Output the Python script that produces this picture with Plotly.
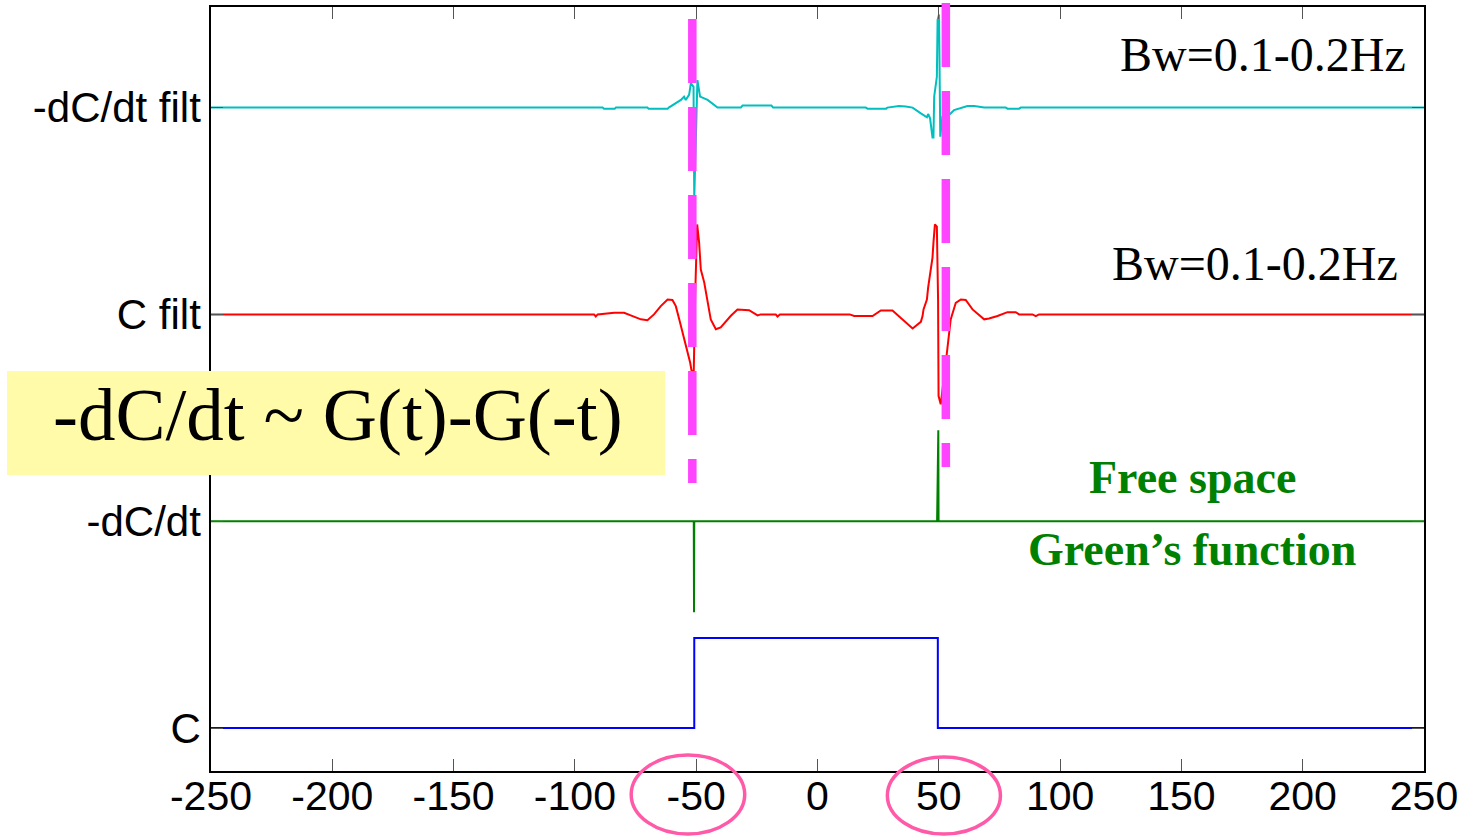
import numpy as np
import plotly.graph_objects as go

# ---------------- data ----------------
tick_positions = [0, 1, 2, 3]
tick_labels = ["C", "-dC/dt", "C filt", "-dC/dt filt"]
x_ticks = [-250, -200, -150, -100, -50, 0, 50, 100, 150, 200, 250]

# C : box function
t_C = [-250, -50.8, -50.8, 49.6, 49.6, 250]
C = [0, 0, 0.435, 0.435, 0, 0]

# -dC/dt : spikes
t_dC = [-250, -51.0, -50.9, -50.8, 49.3, 49.8, 49.9, 250]
dC = [0, 0, -0.44, 0, 0, 0.44, 0, 0]

# C filt
t_Cf = [-250, -92.1, -91.4, -90.6, -83.8, -79.7, -77.0, -72.8, -70.1, -67.4,
        -64.6, -61.8, -59.8, -58.4, -57.0, -55.6, -54.3, -52.5, -51.8, -51.0,
        -50.4, -49.6, -48.8, -48.1, -46.7, -45.3, -44.0, -41.9, -39.9, -35.8,
        -33.0, -28.2, -24.7, -23.4, -17.2, -16.5, -15.5,
        13.3, 15.1, 22.7, 26.1, 30.9, 39.2, 42.6, 43.3, 43.7, 45.1, 45.6, 46.7,
        47.4, 47.8, 48.4, 49.2, 49.7, 49.9, 50.8, 53.3, 54.2, 54.9, 57.0, 59.1,
        61.1, 63.9, 68.7, 70.7, 74.2, 78.3, 81.7, 83.1, 88.6, 90.0, 91.3, 250]
Cf = [0, 0, -0.01, 0, 0.008, 0.008, -0.005, -0.024, -0.028, 0,
      0.04, 0.072, 0.07, 0.04, -0.024, -0.089, -0.137, -0.233, -0.28, -0.27,
      0.1, 0.435, 0.348, 0.217, 0.155, 0.072, -0.024, -0.072, -0.063, -0.008,
      0.024, 0.02, -0.005, 0, 0, -0.01, 0,
      0, -0.008, -0.008, 0.019, 0.019, -0.068, -0.036, -0.008, 0.024, 0.072, 0.129, 0.21,
      0.274, 0.347, 0.435, 0.424, 0.072, -0.395, -0.435, -0.19, -0.08, -0.024, 0.056, 0.072,
      0.07, 0.024, -0.024, -0.02, -0.008, 0.011, 0.011, 0, 0, -0.008, 0, 0]

# -dC/dt filt
t_dCf = [-250, -88.6, -88.0, -83.6, -83.1, -70.1, -69.6, -61.8, -61.3, -56.3,
         -55.0, -54.3, -52.9, -52.2, -51.1, -50.8, -49.5, -48.4, -46.7, -45.3,
         -41.2, -31.6, -30.9, -19.0, -18.3,
         19.9, 20.6, 28.3, 28.8, 33.6, 36.4, 39.2, 42.6, 45.1, 45.6, 46.4, 47.4,
         47.8, 48.1, 49.2, 49.5, 50.1, 50.6, 51.5, 54.2, 56.3, 61.8, 64.6, 68.7,
         77.6, 78.3, 83.1, 83.8, 250]
dCf = [0, 0, -0.006, -0.006, 0, 0, -0.006, -0.006, 0, 0.037,
       0.053, 0.037, 0.063, 0.118, 0.1, -0.44, 0.133, 0.053, 0.045, 0.037,
       0, 0, 0.01, 0.01, 0,
       0, -0.005, -0.005, 0, 0.008, 0.005, 0, -0.028, -0.047, -0.031, -0.052, -0.144,
       -0.144, 0.053, 0.149, 0.424, 0.45, -0.141, -0.044, -0.036, -0.012, 0.008, 0.008, 0,
       0, -0.005, -0.005, 0, 0]

# markers of the causal / anti-causal arrival times
arrival_times = [-51.6, 52.9]
# highlighted tick labels (ellipse extents in time units)
ellipse_spans = [(-76.8, -30.0), (28.8, 75.4)]

# ---------------- figure ----------------
fig = go.Figure()
series = [
    (t_C, C, 0, "#0000FF"),
    (t_dC, dC, 1, "#008000"),
    (t_Cf, Cf, 2, "#FF0000"),
    (t_dCf, dCf, 3, "#00BFBF"),
]
for t, v, off, col in series:
    fig.add_trace(go.Scatter(x=t, y=np.array(v) + off, mode="lines",
                             line=dict(color=col, width=2), showlegend=False,
                             hoverinfo="skip"))

W, H = 1465, 838
L, R, T, B = 211, 41, 7, 67
pw, ph = W - L - R, H - T - B

def py2paper(py):
    return (H - B - py) / ph

def px2paper(px):
    return (px - L) / pw

shapes = []
# magenta dashed vertical lines
mag_tops = [19, 3]
mag_bots = [483, 467]
for xt, ytop, ybot in zip(arrival_times, mag_tops, mag_bots):
    shapes.append(dict(type="line", xref="x", yref="paper", x0=xt, x1=xt,
                       y0=py2paper(ytop), y1=py2paper(ybot),
                       line=dict(color="#FF44FF", width=8.5, dash="64px,24px"),
                       layer="above"))
# yellow box
shapes.append(dict(type="rect", xref="paper", yref="paper",
                   x0=px2paper(7), x1=px2paper(665), y0=py2paper(475), y1=py2paper(371),
                   fillcolor="#FFFBA8", line=dict(width=0), layer="above"))
# pink ellipses around -50 and 50 tick labels
for (xa, xb), (ya, yb) in zip(ellipse_spans, [(834, 755), (834, 757)]):
    shapes.append(dict(type="circle", xref="x", yref="paper",
                       x0=xa, x1=xb, y0=py2paper(ya), y1=py2paper(yb),
                       line=dict(color="#FF5AA8", width=3.5), layer="above"))

serif = "Liberation Serif, Times New Roman, serif"
annotations = [
    dict(text="-dC/dt ~ G(t)-G(-t)", x=px2paper(338), y=py2paper(414),
         font=dict(family=serif, size=75, color="black")),
    dict(text="Bw=0.1-0.2Hz", x=px2paper(1408), y=py2paper(55), xanchor="right",
         font=dict(family=serif, size=48, color="black")),
    dict(text="Bw=0.1-0.2Hz", x=px2paper(1400), y=py2paper(263), xanchor="right",
         font=dict(family=serif, size=48, color="black")),
    dict(text="<b>Free space</b>", x=px2paper(1192), y=py2paper(477),
         font=dict(family=serif, size=46, color="#008000")),
    dict(text="<b>Green’s function</b>", x=px2paper(1192), y=py2paper(549),
         font=dict(family=serif, size=46, color="#008000")),
]
for a in annotations:
    a.setdefault("xanchor", "center")
    a.update(xref="paper", yref="paper", yanchor="middle", showarrow=False)

sans = "Liberation Sans, Arial, sans-serif"
y0px = 728
spacing = 206.8
y_top = (y0px - T) / spacing
y_bot = -(H - B - y0px) / spacing

fig.update_layout(
    width=W, height=H,
    margin=dict(l=L, r=R, t=T, b=B, autoexpand=False),
    paper_bgcolor="white", plot_bgcolor="white",
    shapes=shapes, annotations=annotations,
    xaxis=dict(range=[-250, 250], tickvals=x_ticks, ticktext=[str(v) for v in x_ticks],
               ticks="inside", ticklen=12, tickcolor="#555", tickwidth=1.2,
               showline=True, linecolor="black", linewidth=1.5, mirror="ticks",
               showgrid=False, zeroline=False, ticklabelstandoff=-12,
               tickfont=dict(family=sans, size=41, color="black")),
    yaxis=dict(range=[y_bot, y_top], tickvals=tick_positions, ticktext=tick_labels,
               ticks="inside", ticklen=12, tickcolor="#555", tickwidth=1.2,
               showline=True, linecolor="black", linewidth=1.5, mirror="ticks",
               showgrid=False, zeroline=False,
               tickfont=dict(family=sans, size=42, color="black")),
)

fig.write_html("out.html", config={"displayModeBar": False},
               post_script="document.body.style.margin='0';document.body.style.overflow='hidden';")
